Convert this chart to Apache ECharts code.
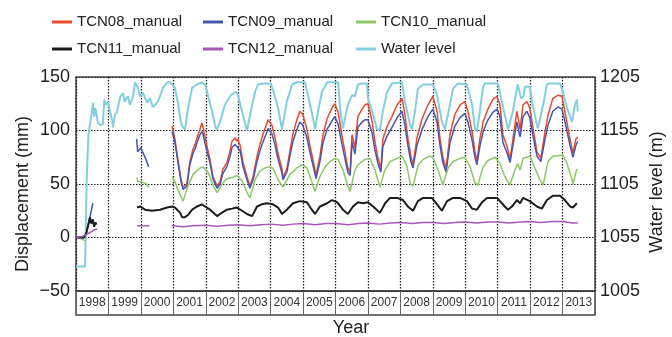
<!DOCTYPE html>
<html>
<head>
<meta charset="utf-8">
<title>Displacement and water level</title>
<script src="https://cdn.jsdelivr.net/npm/echarts@6/dist/echarts.min.js"></script>
<style>
  html, body { margin: 0; padding: 0; background: #fff; }
  #chart { width: 672px; height: 337px; }
</style>
</head>
<body>
<div id="chart"></div>
<script>
// year labels in the strip under the plot
var years = ['1998', '1999', '2000', '2001', '2002', '2003', '2004', '2005',
             '2006', '2007', '2008', '2009', '2010', '2011', '2012', '2013'];
var dispTicks = [-50, 0, 50, 100, 150];
var levelTicks = [1005, 1055, 1105, 1155, 1205];

// [decimal year, displacement mm], '-' = no reading
var tcn08 = [
  [1998.00, 0], [1998.25, 0], [1998.30, '-'],
  [2000.96, 104], [2001.05, 92], [2001.14, 73], [2001.24, 54], [2001.30, 47], [2001.42, 50],
  [2001.51, 71], [2001.61, 83], [2001.67, 87], [2001.76, 96], [2001.82, 101], [2001.88, 107],
  [2001.91, 104], [2002.04, 85], [2002.13, 73], [2002.22, 57], [2002.35, 48], [2002.44, 52],
  [2002.53, 64], [2002.65, 70], [2002.75, 81], [2002.81, 90], [2002.90, 93], [2002.96, 90],
  [2002.99, 92], [2003.06, 86], [2003.15, 70], [2003.27, 57], [2003.36, 48], [2003.46, 57],
  [2003.58, 76], [2003.67, 87], [2003.76, 96], [2003.89, 107], [2003.92, 110], [2004.04, 105],
  [2004.13, 94], [2004.23, 78], [2004.35, 64], [2004.38, 56], [2004.50, 64], [2004.60, 82],
  [2004.69, 97], [2004.81, 110], [2004.90, 118], [2004.99, 115], [2005.12, 101], [2005.21, 86],
  [2005.31, 72], [2005.40, 58], [2005.52, 76], [2005.61, 95], [2005.74, 111], [2005.89, 121],
  [2005.98, 125], [2006.08, 117], [2006.20, 95], [2006.29, 80], [2006.38, 65], [2006.45, 61],
  [2006.51, 96], [2006.60, 84], [2006.69, 113], [2006.82, 120], [2006.91, 124], [2007.00, 125],
  [2007.12, 110], [2007.22, 89], [2007.31, 74], [2007.40, 64], [2007.46, 92], [2007.59, 104],
  [2007.74, 113], [2007.90, 124], [2008.05, 130], [2008.14, 115], [2008.23, 93], [2008.33, 75],
  [2008.39, 68], [2008.51, 93], [2008.67, 111], [2008.85, 124], [2009.00, 132], [2009.13, 118],
  [2009.22, 93], [2009.31, 75], [2009.41, 64], [2009.53, 97], [2009.68, 115], [2009.84, 124],
  [2009.99, 127], [2010.08, 118], [2010.21, 99], [2010.30, 80], [2010.36, 71], [2010.45, 92],
  [2010.55, 108], [2010.70, 120], [2010.85, 129], [2010.98, 132], [2011.07, 124], [2011.16, 96],
  [2011.29, 85], [2011.38, 73], [2011.47, 92], [2011.59, 118], [2011.69, 101], [2011.78, 124],
  [2011.90, 127], [2011.99, 121], [2012.09, 102], [2012.21, 80], [2012.33, 74], [2012.46, 99],
  [2012.55, 114], [2012.70, 130], [2012.86, 133], [2012.98, 132], [2013.07, 118], [2013.23, 92],
  [2013.32, 79], [2013.41, 92], [2013.47, 94]
];

var tcn09 = [
  [1998.00, 0], [1998.25, 0], [1998.30, 3], [1998.40, 15], [1998.47, 25], [1998.52, 32], [1998.60, '-'],
  [1999.87, 92], [1999.90, 80], [1999.95, 82], [2000.00, 84], [2000.05, 80], [2000.10, 77],
  [2000.17, 72], [2000.24, 66], [2000.30, '-'],
  [2000.96, 99], [2001.05, 89], [2001.14, 71], [2001.24, 52], [2001.30, 45], [2001.42, 48],
  [2001.51, 68], [2001.61, 79], [2001.67, 83], [2001.76, 91], [2001.82, 96], [2001.88, 99],
  [2001.91, 97], [2002.04, 80], [2002.13, 70], [2002.22, 55], [2002.35, 46], [2002.44, 50],
  [2002.53, 60], [2002.65, 66], [2002.75, 76], [2002.81, 84], [2002.90, 87], [2002.96, 85],
  [2002.99, 86], [2003.06, 81], [2003.15, 66], [2003.27, 54], [2003.36, 46], [2003.46, 54],
  [2003.58, 71], [2003.67, 81], [2003.76, 89], [2003.89, 99], [2003.92, 102], [2004.04, 97],
  [2004.13, 87], [2004.23, 73], [2004.35, 60], [2004.38, 54], [2004.50, 61], [2004.60, 77],
  [2004.69, 90], [2004.81, 101], [2004.90, 108], [2004.99, 105], [2005.12, 93], [2005.21, 80],
  [2005.31, 67], [2005.40, 55], [2005.52, 71], [2005.61, 88], [2005.74, 101], [2005.89, 109],
  [2005.98, 113], [2006.08, 106], [2006.20, 87], [2006.29, 74], [2006.38, 61], [2006.45, 58],
  [2006.51, 89], [2006.60, 78], [2006.69, 103], [2006.82, 108], [2006.91, 110], [2007.00, 110],
  [2007.12, 99], [2007.22, 81], [2007.31, 69], [2007.40, 61], [2007.46, 85], [2007.59, 95],
  [2007.74, 103], [2007.90, 112], [2008.05, 118], [2008.14, 105], [2008.23, 86], [2008.33, 70],
  [2008.39, 65], [2008.51, 86], [2008.67, 101], [2008.85, 113], [2009.00, 120], [2009.13, 108],
  [2009.22, 86], [2009.31, 70], [2009.41, 61], [2009.53, 89], [2009.68, 104], [2009.84, 112],
  [2009.99, 116], [2010.08, 108], [2010.21, 91], [2010.30, 75], [2010.36, 68], [2010.45, 85],
  [2010.55, 99], [2010.70, 110], [2010.85, 117], [2010.98, 120], [2011.07, 113], [2011.16, 89],
  [2011.29, 79], [2011.38, 70], [2011.47, 86], [2011.59, 108], [2011.69, 94], [2011.78, 113],
  [2011.90, 118], [2011.99, 112], [2012.09, 95], [2012.21, 76], [2012.33, 71], [2012.46, 92],
  [2012.55, 105], [2012.70, 118], [2012.86, 122], [2012.98, 120], [2013.07, 109], [2013.23, 86],
  [2013.32, 75], [2013.41, 86], [2013.47, 90]
];

var tcn10 = [
  [1998.10, 0], [1998.20, -2], [1998.30, -3], [1998.35, '-'],
  [1999.87, 56], [1999.92, 52], [1999.97, 53], [2000.03, 52], [2000.10, 51], [2000.17, 50],
  [2000.24, 47], [2000.30, '-'],
  [2000.96, 57], [2001.05, 52], [2001.14, 45], [2001.30, 34], [2001.45, 48], [2001.61, 59],
  [2001.82, 65], [2001.91, 66], [2002.07, 61], [2002.22, 49], [2002.35, 42], [2002.50, 50],
  [2002.65, 55], [2002.81, 56], [2002.96, 58], [2003.12, 53], [2003.27, 42], [2003.36, 37],
  [2003.52, 54], [2003.67, 62], [2003.83, 65], [2003.92, 66], [2004.07, 65], [2004.23, 54],
  [2004.38, 47], [2004.60, 59], [2004.81, 65], [2004.97, 68], [2005.12, 65], [2005.27, 52],
  [2005.37, 43], [2005.52, 57], [2005.68, 66], [2005.83, 71], [2005.98, 74], [2006.08, 73],
  [2006.23, 63], [2006.38, 48], [2006.45, 43], [2006.60, 63], [2006.69, 68], [2006.91, 73],
  [2007.06, 74], [2007.22, 63], [2007.37, 47], [2007.52, 63], [2007.68, 71], [2007.90, 74],
  [2008.05, 76], [2008.20, 67], [2008.30, 51], [2008.39, 48], [2008.54, 67], [2008.70, 73],
  [2008.91, 76], [2009.00, 75], [2009.16, 63], [2009.31, 49], [2009.47, 65], [2009.62, 71],
  [2009.84, 74], [2009.99, 75], [2010.15, 66], [2010.30, 51], [2010.39, 49], [2010.55, 66],
  [2010.70, 72], [2010.92, 75], [2011.07, 69], [2011.22, 57], [2011.38, 49], [2011.53, 63],
  [2011.62, 69], [2011.69, 63], [2011.78, 74], [2011.99, 76], [2012.09, 69], [2012.30, 54],
  [2012.40, 49], [2012.55, 71], [2012.70, 76], [2013.01, 77], [2013.14, 69], [2013.29, 54],
  [2013.32, 50], [2013.44, 64]
];

var tcn11 = [
  [1998.00, 0], [1998.25, 0], [1998.33, 5], [1998.38, 12], [1998.43, 19], [1998.47, 13],
  [1998.52, 17], [1998.56, 10], [1998.60, 14], [1998.63, 12], [1998.70, '-'],
  [1999.88, 28], [1999.97, 29], [2000.13, 26], [2000.34, 25], [2000.59, 26], [2000.81, 28],
  [2000.96, 29], [2001.05, 28], [2001.21, 23], [2001.27, 19], [2001.36, 19], [2001.45, 21],
  [2001.58, 26], [2001.73, 29], [2001.88, 31], [2001.98, 29], [2002.13, 26], [2002.35, 20],
  [2002.44, 22], [2002.65, 26], [2002.81, 27], [2002.96, 28], [2003.12, 25], [2003.27, 22],
  [2003.43, 20], [2003.58, 29], [2003.73, 31], [2003.89, 32], [2004.07, 31], [2004.23, 28],
  [2004.35, 22], [2004.50, 26], [2004.69, 32], [2004.90, 34], [2005.12, 33], [2005.27, 26],
  [2005.37, 22], [2005.52, 29], [2005.74, 32], [2005.89, 35], [2006.05, 33], [2006.23, 26],
  [2006.38, 22], [2006.54, 29], [2006.69, 33], [2006.85, 32], [2007.00, 33], [2007.16, 29],
  [2007.37, 23], [2007.53, 32], [2007.68, 37], [2007.90, 37], [2008.08, 35], [2008.23, 29],
  [2008.39, 25], [2008.54, 34], [2008.70, 37], [2008.97, 37], [2009.13, 31], [2009.28, 25],
  [2009.44, 34], [2009.62, 37], [2009.84, 37], [2010.05, 34], [2010.21, 27], [2010.36, 26],
  [2010.52, 33], [2010.67, 37], [2010.98, 37], [2011.07, 34], [2011.22, 29], [2011.32, 26],
  [2011.47, 30], [2011.59, 35], [2011.69, 32], [2011.78, 37], [2011.99, 34], [2012.21, 29],
  [2012.36, 27], [2012.52, 35], [2012.70, 39], [2012.92, 39], [2013.07, 35], [2013.23, 29],
  [2013.32, 28], [2013.44, 32]
];

var tcn12 = [
  [1998.00, 0], [1998.20, 1], [1998.40, 4], [1998.55, 7], [1998.65, 8], [1998.70, '-'],
  [1999.88, 11], [2000.00, 11], [2000.12, 11], [2000.26, 11], [2000.30, '-'],
  [2000.95, 11], [2001.30, 10], [2001.60, 11], [2002.00, 11.5], [2002.35, 10.5], [2002.70, 11.5],
  [2003.00, 12], [2003.35, 11], [2003.70, 12], [2004.00, 12.5], [2004.38, 11.5], [2004.70, 12.5],
  [2005.00, 13], [2005.37, 12], [2005.70, 13], [2006.00, 13], [2006.40, 12], [2006.70, 13],
  [2007.00, 13.5], [2007.35, 12.5], [2007.70, 13.5], [2008.00, 14], [2008.37, 13], [2008.70, 14],
  [2009.00, 14], [2009.35, 13], [2009.70, 14], [2010.00, 14.5], [2010.35, 13.5], [2010.70, 14.5],
  [2011.00, 14.5], [2011.35, 13.5], [2011.70, 14.5], [2012.00, 15], [2012.33, 14], [2012.70, 15],
  [2013.00, 15], [2013.30, 13.5], [2013.47, 13.5]
];

// [decimal year, reservoir water level m]
var waterLevel = [
  [1998.00, 1028], [1998.28, 1028], [1998.30, 1060], [1998.33, 1110], [1998.38, 1150],
  [1998.45, 1165], [1998.49, 1172], [1998.52, 1181], [1998.56, 1168], [1998.59, 1176],
  [1998.62, 1172], [1998.68, 1162], [1998.74, 1160], [1998.83, 1161], [1998.87, 1184],
  [1998.92, 1179], [1998.99, 1182], [1999.05, 1172], [1999.11, 1165], [1999.14, 1158],
  [1999.20, 1170], [1999.26, 1172], [1999.36, 1186], [1999.45, 1190], [1999.50, 1182],
  [1999.60, 1187], [1999.66, 1179], [1999.76, 1187], [1999.82, 1200], [1999.91, 1195],
  [1999.97, 1187], [2000.07, 1190], [2000.19, 1181], [2000.28, 1185], [2000.37, 1177],
  [2000.50, 1181], [2000.59, 1187], [2000.68, 1195], [2000.81, 1200], [2000.90, 1200],
  [2001.05, 1195], [2001.14, 1181], [2001.22, 1165], [2001.27, 1159], [2001.36, 1156],
  [2001.45, 1175], [2001.58, 1195], [2001.73, 1198], [2001.88, 1200], [2001.98, 1198],
  [2002.05, 1190], [2002.20, 1172], [2002.30, 1158], [2002.35, 1156], [2002.44, 1163],
  [2002.59, 1179], [2002.75, 1187], [2002.90, 1191], [2002.97, 1190], [2003.00, 1187],
  [2003.12, 1173], [2003.20, 1163], [2003.27, 1155], [2003.43, 1179], [2003.52, 1191],
  [2003.61, 1198], [2003.80, 1199], [2004.00, 1199], [2004.10, 1190], [2004.23, 1176],
  [2004.35, 1156], [2004.50, 1182], [2004.66, 1198], [2004.80, 1200], [2005.06, 1200],
  [2005.15, 1188], [2005.31, 1166], [2005.37, 1156], [2005.46, 1173], [2005.58, 1191],
  [2005.74, 1200], [2006.08, 1200], [2006.15, 1173], [2006.23, 1157], [2006.38, 1179],
  [2006.51, 1188], [2006.60, 1187], [2006.69, 1198], [2006.82, 1199], [2006.97, 1199],
  [2007.00, 1185], [2007.16, 1170], [2007.28, 1156], [2007.37, 1156], [2007.46, 1173],
  [2007.59, 1191], [2007.74, 1199], [2008.05, 1200], [2008.14, 1182], [2008.30, 1160],
  [2008.36, 1156], [2008.45, 1173], [2008.54, 1194], [2008.70, 1198], [2009.00, 1198],
  [2009.13, 1188], [2009.28, 1163], [2009.37, 1156], [2009.53, 1179], [2009.62, 1194],
  [2009.78, 1199], [2010.05, 1198], [2010.21, 1179], [2010.30, 1157], [2010.36, 1154],
  [2010.45, 1173], [2010.55, 1196], [2010.61, 1199], [2010.92, 1199], [2011.01, 1199],
  [2011.13, 1182], [2011.29, 1160], [2011.32, 1156], [2011.47, 1173], [2011.59, 1194],
  [2011.62, 1198], [2011.72, 1185], [2011.80, 1187], [2011.84, 1196], [2011.99, 1196],
  [2012.06, 1182], [2012.21, 1160], [2012.24, 1157], [2012.40, 1179], [2012.52, 1198],
  [2012.61, 1199], [2012.92, 1199], [2012.98, 1194], [2013.14, 1176], [2013.29, 1163],
  [2013.38, 1179], [2013.44, 1184], [2013.47, 1173]
];

var FONT = '"Liberation Sans", Arial, sans-serif';
var GRID_LINE = '#222';
var FRAME = '#4a4240';

function lineSeries(name, data, color, width, yIndex) {
  return {
    name: name,
    type: 'line',
    xAxisIndex: 0,
    yAxisIndex: yIndex,
    data: data,
    symbol: 'none',
    connectNulls: false,
    animation: false,
    lineStyle: { color: color, width: width },
    itemStyle: { color: color }
  };
}

// three legend columns, two rows each
function legendCol(left, names) {
  return {
    orient: 'vertical',
    left: left,
    top: 8,
    icon: 'rect',
    itemWidth: 20,
    itemHeight: 3,
    itemGap: 9,
    data: names,
    textStyle: { fontFamily: FONT, fontSize: 15, color: '#222', lineHeight: 18 }
  };
}

var chart = echarts.init(document.getElementById('chart'), null, { renderer: 'canvas' });

chart.setOption({
  backgroundColor: '#fff',
  animation: false,
  legend: [
    legendCol(47, ['TCN08_manual', 'TCN11_manual']),
    legendCol(198, ['TCN09_manual', 'TCN12_manual']),
    legendCol(351, ['TCN10_manual', 'Water level'])
  ],
  grid: [
    { left: 76, right: 77, top: 77, height: 214, show: true, borderColor: FRAME, borderWidth: 1.5 },
    { left: 76, right: 77, top: 291, height: 24, show: true, borderColor: FRAME, borderWidth: 1.5 }
  ],
  xAxis: [
    {
      type: 'value', gridIndex: 0, min: 1998, max: 2014, interval: 1,
      axisLine: { show: false }, axisTick: { show: false }, axisLabel: { show: false },
      splitLine: { show: true, lineStyle: { color: GRID_LINE, type: [1.5, 1.5], width: 1.3 } }
    },
    {
      type: 'category', gridIndex: 1, data: years, boundaryGap: true,
      axisLine: { show: false }, axisTick: { show: false },
      axisLabel: { interval: 0, inside: true, margin: 6, fontFamily: FONT, fontSize: 12, color: '#333' },
      splitLine: { show: true, interval: 0, lineStyle: { color: '#666', width: 1 } }
    }
  ],
  yAxis: [
    {
      type: 'value', gridIndex: 0, min: dispTicks[0], max: dispTicks[dispTicks.length - 1], interval: 50,
      axisLine: { show: false }, axisTick: { show: false },
      axisLabel: {
        margin: 6, fontFamily: FONT, fontSize: 18, color: '#222',
        formatter: function (v) { return String(v).replace('-', '\u2212'); }
      },
      splitLine: { show: true, lineStyle: { color: GRID_LINE, type: [1.5, 1.5], width: 1.2 } }
    },
    {
      type: 'value', gridIndex: 0, position: 'right',
      min: levelTicks[0], max: levelTicks[levelTicks.length - 1], interval: 50,
      axisLine: { show: false }, axisTick: { show: false },
      axisLabel: {
        margin: 5, fontFamily: FONT, fontSize: 18, color: '#222',
        formatter: function (v) { return String(v); }
      },
      splitLine: { show: false }
    },
    { type: 'value', gridIndex: 1, show: false, min: 0, max: 1 }
  ],
  graphic: [
    {
      type: 'text', rotation: Math.PI / 2, x: 23, y: 194,
      style: { text: 'Displacement (mm)', font: '18px ' + FONT, fill: '#222', align: 'center', verticalAlign: 'middle' }
    },
    {
      type: 'text', rotation: Math.PI / 2, x: 657, y: 192,
      style: { text: 'Water level (m)', font: '18px ' + FONT, fill: '#222', align: 'center', verticalAlign: 'middle' }
    },
    {
      type: 'text', x: 351, y: 328,
      style: { text: 'Year', font: '18px ' + FONT, fill: '#222', align: 'center', verticalAlign: 'middle' }
    }
  ],
  series: [
    lineSeries('Water level', waterLevel, '#82d0dd', 2, 1),
    lineSeries('TCN08_manual', tcn08, '#e84a2f', 1.5, 0),
    lineSeries('TCN09_manual', tcn09, '#4a55b0', 1.5, 0),
    lineSeries('TCN10_manual', tcn10, '#8cc866', 1.5, 0),
    lineSeries('TCN11_manual', tcn11, '#1c1c1c', 2, 0),
    lineSeries('TCN12_manual', tcn12, '#a658b8', 1.5, 0)
  ]
});
</script>
</body>
</html>
